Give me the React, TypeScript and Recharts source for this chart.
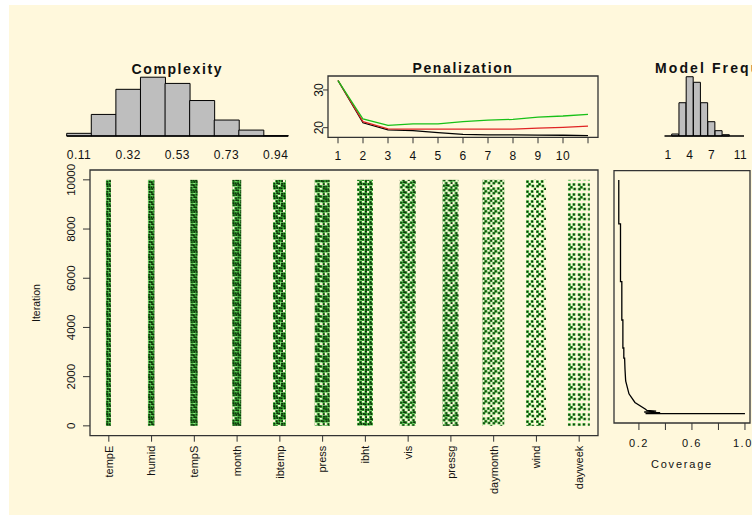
import {
  BarChart,
  Bar,
  ComposedChart,
  LineChart,
  Line,
  XAxis,
  YAxis,
  ReferenceArea,
  ReferenceLine,
} from "recharts";

/* ---------- data ---------- */

// Complexity histogram (bin centres, counts)
const BIN_LABELS = ["0.11", "0.21", "0.32", "0.42", "0.53", "0.63", "0.73", "0.84", "0.94"];
const BIN_TICKS = ["0.11", "0.32", "0.53", "0.73", "0.94"];
const COMPLEXITY = [45, 365, 790, 995, 890, 600, 270, 100, 5];

// Penalization curves
const PEN_STEPS = [1, 2, 3, 4, 5, 6, 7, 8, 9, 10, 11];
const PEN_BLACK = [32.5, 21.3, 19.4, 19.2, 18.7, 18.25, 18.1, 18.1, 18.0, 18.0, 17.9];
const PEN_RED = [32.5, 21.6, 19.7, 19.6, 19.6, 19.6, 19.6, 19.6, 19.9, 20.1, 20.4];
const PEN_GREEN = [32.5, 22.3, 20.6, 21.0, 21.0, 21.6, 22.0, 22.2, 22.8, 23.1, 23.55];

// Model size frequencies
const SIZES = ["1", "2", "3", "4", "5", "6", "7", "8", "9", "10", "11"];
const SIZE_TICKS = ["1", "4", "7", "11"];
const MODEL_FREQ = [0, 34, 563, 1003, 909, 563, 242, 90, 22, 0, 0];

// Variable inclusion trace
const VARIABLES = ["tempE", "humid", "tempS", "month", "ibtemp", "press", "ibht", "vis", "pressg", "daymonth", "wind", "dayweek"];
const INCLUSION = [1.0, 0.99, 0.97, 0.94, 0.85, 0.8, 0.77, 0.65, 0.62, 0.42, 0.4, 0.3];
const ITERATIONS = 10000;
const ITER_TICKS = [0, 2000, 4000, 6000, 8000, 10000];

// Coverage vs iteration
const COV_ITER = [0, 0, 40, 70, 110, 140, 190, 480, 850, 1400, 1900, 2380, 2380, 2810, 2810, 4010, 4010, 5650, 5650, 8120, 8120, 10000];
const COVERAGE = [1.0, 0.25, 0.36, 0.24, 0.33, 0.26, 0.25, 0.17, 0.125, 0.1, 0.095, 0.092, 0.086, 0.086, 0.079, 0.079, 0.071, 0.071, 0.061, 0.061, 0.048, 0.048];
const COV_TICKS = [0.2, 0.4, 0.6, 0.8, 1.0];
const COV_LABELS = [0.2, 0.6, 1.0];

/* ---------- styles ---------- */

const FONT = '"Liberation Sans", Arial, Helvetica, sans-serif';
const INK = "#111";
const FRAME = "#333";
const CREAM = "#FFF8DC";
const BAR_FILL = "#BEBEBE";
const DOT_GREEN = "#33c333";
const DOT_DARK = "#0e2608";
const STRIP_WIDTH = [5, 6.5, 7.5, 9, 13, 15, 16, 16, 16, 22, 20, 22];
// dither order of dot slots inside a 10x10 texture tile (slot * 2.5px)
const DITHER = [
  [0, 0], [2, 2], [2, 0], [0, 2], [1, 1], [3, 3], [3, 1], [1, 3],
  [1, 0], [3, 2], [3, 0], [1, 2], [0, 1], [2, 3], [2, 1], [0, 3],
];
// small nudges so the texture is less grid-like
const NUDGE = [0, 0.4, -0.3, 0.2, -0.4, 0.3, 0, -0.2, 0.3, -0.3, 0.2, 0.4, -0.2, 0.1, -0.4, 0.3];

const tickFont = { fontSize: 12, fill: INK, fontFamily: FONT, letterSpacing: 0.5 };

const complexityRows = BIN_LABELS.map((b, i) => ({ bin: b, count: COMPLEXITY[i] }));
const freqRows = SIZES.map((s, i) => ({ size: s, count: MODEL_FREQ[i] }));
const penRows = PEN_STEPS.map((s, i) => ({
  step: s,
  black: PEN_BLACK[i],
  red: PEN_RED[i],
  green: PEN_GREEN[i],
}));
const stripRows = VARIABLES.map((v, i) => ({
  pos: i + 1,
  name: v,
  iterations: ITERATIONS,
  inclusion: INCLUSION[i],
}));
const covRows = COV_ITER.map((it, i) => ({ iteration: it, coverage: COVERAGE[i] }));

/* ---------- UI bits ---------- */

function StripShape(props: any) {
  const { x, y, width, height, payload, index } = props;
  const cx = x + width / 2;
  const w = STRIP_WIDTH[index];
  const n = Math.round(payload.inclusion * DITHER.length);
  const id = `strip-${index}`;
  const slots = DITHER.slice(0, n).map(([dx, dy], k) => [dx * 2.5 + NUDGE[k], dy * 2.5 + NUDGE[15 - k]]);
  return (
    <g>
      <defs>
        <pattern id={id} width={10} height={10} patternUnits="userSpaceOnUse" x={cx - w / 2} y={index * 3}>
          {slots.map(([sx, sy], k) => (
            <rect key={`g${k}`} x={sx} y={sy} width={2.8} height={2.8} fill={DOT_GREEN} />
          ))}
          {slots.map(([sx, sy], k) => (
            <rect key={`d${k}`} x={sx + 0.5} y={sy + 0.5} width={1.8} height={1.8} fill={DOT_DARK} />
          ))}
        </pattern>
      </defs>
      <rect x={cx - w / 2} y={y} width={w} height={height} fill={`url(#${id})`} />
    </g>
  );
}

function MainXTick(p: any) {
  return (
    <text
      x={p.x}
      y={p.y}
      transform={`rotate(-90 ${p.x} ${p.y})`}
      textAnchor="end"
      dy="0.35em"
      fontSize={11}
      fill={INK}
      fontFamily={FONT}
    >
      {VARIABLES[p.payload.value - 1]}
    </text>
  );
}

function RotYTick(p: any) {
  const { x, y, payload, hideValues, size } = p;
  if (hideValues && hideValues.includes(payload.value)) return null;
  return (
    <text
      x={x}
      y={y}
      transform={`rotate(-90 ${x} ${y})`}
      textAnchor="middle"
      fontSize={size}
      fill={INK}
      fontFamily={FONT}
    >
      {payload.value}
    </text>
  );
}

export default function App() {
  return (
    <div
      style={{
        position: "absolute",
        left: 0,
        top: 0,
        width: 752,
        height: 516,
        overflow: "hidden",
        background: "#fff",
        fontFamily: FONT,
      }}
    >
      <div style={{ position: "absolute", left: 9, top: 5, width: 743, height: 510, background: CREAM }} />

      {/* Complexity */}
      <div style={{ position: "absolute", left: 0, top: 0 }}>
        <BarChart
          width={300}
          height={175}
          data={complexityRows}
          margin={{ top: 71, right: 12, bottom: 9, left: 66.7 }}
          barCategoryGap={0}
        >
          <XAxis
            dataKey="bin"
            axisLine={false}
            tickLine={false}
            interval={0}
            tickMargin={8}
            tick={tickFont}
            tickFormatter={(v: string) => (BIN_TICKS.includes(v) ? v : "")}
          />
          <YAxis hide domain={[0, 1100]} />
          <Bar dataKey="count" fill={BAR_FILL} stroke="#000" strokeWidth={1} isAnimationActive={false} />
          <ReferenceLine y={0} stroke="#000" strokeWidth={1.3} />
        </BarChart>
      </div>

      {/* Penalization */}
      <div style={{ position: "absolute", left: 290, top: 0 }}>
        <LineChart width={320} height={175} data={penRows} margin={{ top: 76, right: 12, bottom: 7.7, left: 8 }}>
          <XAxis
            dataKey="step"
            type="number"
            domain={[0.6, 11.4]}
            ticks={PEN_STEPS}
            axisLine={false}
            stroke={FRAME}
            tickSize={6}
            tickMargin={8}
            tick={tickFont}
            tickFormatter={(v: number) => (v === 11 ? "" : String(v))}
          />
          <YAxis
            type="number"
            domain={[17.45, 33.7]}
            ticks={[20, 25, 30]}
            width={30}
            axisLine={false}
            stroke={FRAME}
            tickSize={5}
            tickMargin={0}
            tick={(p: any) => <RotYTick {...p} size={12} hideValues={[25]} />}
          />
          <ReferenceArea x1={0.6} x2={11.4} y1={17.45} y2={33.7} fill="none" stroke={FRAME} strokeWidth={1.3} ifOverflow="visible" />
          <Line dataKey="black" stroke="#000" strokeWidth={1.3} dot={false} isAnimationActive={false} />
          <Line dataKey="red" stroke="#e02424" strokeWidth={1.3} dot={false} isAnimationActive={false} />
          <Line dataKey="green" stroke="#18c018" strokeWidth={1.3} dot={false} isAnimationActive={false} />
        </LineChart>
      </div>

      {/* Model Freq */}
      <div style={{ position: "absolute", left: 600, top: 0 }}>
        <BarChart
          width={152}
          height={175}
          data={freqRows}
          margin={{ top: 71, right: 8, bottom: 9, left: 64.5 }}
          barCategoryGap={0}
        >
          <XAxis
            dataKey="size"
            axisLine={false}
            tickLine={false}
            interval={0}
            tickMargin={8}
            tick={tickFont}
            tickFormatter={(v: string) => (SIZE_TICKS.includes(v) ? v : "")}
          />
          <YAxis hide domain={[0, 1100]} />
          <Bar dataKey="count" fill={BAR_FILL} stroke="#000" strokeWidth={1} isAnimationActive={false} />
          <ReferenceLine y={0} stroke="#000" strokeWidth={1.3} />
        </BarChart>
      </div>

      {/* Inclusion trace */}
      <div style={{ position: "absolute", left: 0, top: 160 }}>
        <ComposedChart width={600} height={356} data={stripRows} margin={{ top: 10, right: 2, bottom: 10.3, left: 0 }}>
          <XAxis
            dataKey="pos"
            type="number"
            domain={[0.56, 12.44]}
            ticks={stripRows.map(r => r.pos)}
            height={70}
            axisLine={false}
            stroke={FRAME}
            tickSize={6}
            tickMargin={4}
            tick={(p: any) => <MainXTick {...p} />}
          />
          <YAxis
            type="number"
            domain={[-400, 10400]}
            ticks={ITER_TICKS}
            width={90}
            axisLine={false}
            stroke={FRAME}
            tickSize={7}
            tickMargin={8}
            tick={(p: any) => <RotYTick {...p} size={11.5} />}
          />
          <Bar dataKey="iterations" barSize={20} shape={(p: any) => <StripShape {...p} />} isAnimationActive={false} />
          <ReferenceArea x1={0.56} x2={12.44} y1={-400} y2={10400} fill="none" stroke={FRAME} strokeWidth={1.3} ifOverflow="visible" />
        </ComposedChart>
      </div>

      {/* Coverage */}
      <div style={{ position: "absolute", left: 600, top: 160 }}>
        <LineChart width={152} height={356} data={covRows} margin={{ top: 10.7, right: 2, bottom: 63, left: 14 }}>
          <XAxis
            dataKey="coverage"
            type="number"
            domain={[0.012, 1.038]}
            ticks={COV_TICKS}
            axisLine={false}
            stroke={FRAME}
            tickSize={7}
            tickMargin={9}
            tick={{ ...tickFont, fontSize: 11, letterSpacing: 1.5 }}
            tickFormatter={(v: number) => (COV_LABELS.includes(v) ? v.toFixed(1) : "")}
          />
          <YAxis hide type="number" domain={[-400, 10400]} />
          <ReferenceArea x1={0.012} x2={1.038} y1={-400} y2={10400} fill="none" stroke={FRAME} strokeWidth={1.3} ifOverflow="visible" />
          <Line dataKey="iteration" stroke="#000" strokeWidth={1.3} dot={false} isAnimationActive={false} />
        </LineChart>
      </div>

      {/* titles and axis labels */}
      <svg width={752} height={516} style={{ position: "absolute", left: 0, top: 0, pointerEvents: "none" }}>
        <g fontFamily={FONT} fill={INK}>
          <text x={177.3} y={74} textAnchor="middle" fontSize={14} fontWeight="bold" letterSpacing={1.6}>
            Complexity
          </text>
          <text x={463} y={72.7} textAnchor="middle" fontSize={14} fontWeight="bold" letterSpacing={1.6}>
            Penalization
          </text>
          <text x={655} y={73.3} fontSize={14} fontWeight="bold" letterSpacing={2.1}>
            Model Frequencies
          </text>
          <text x={39.6} y={303} transform="rotate(-90 39.6 303)" textAnchor="middle" fontSize={10.5}>
            Iteration
          </text>
          <text x={682} y={468} textAnchor="middle" fontSize={11} letterSpacing={1.8}>
            Coverage
          </text>
        </g>
      </svg>
    </div>
  );
}
